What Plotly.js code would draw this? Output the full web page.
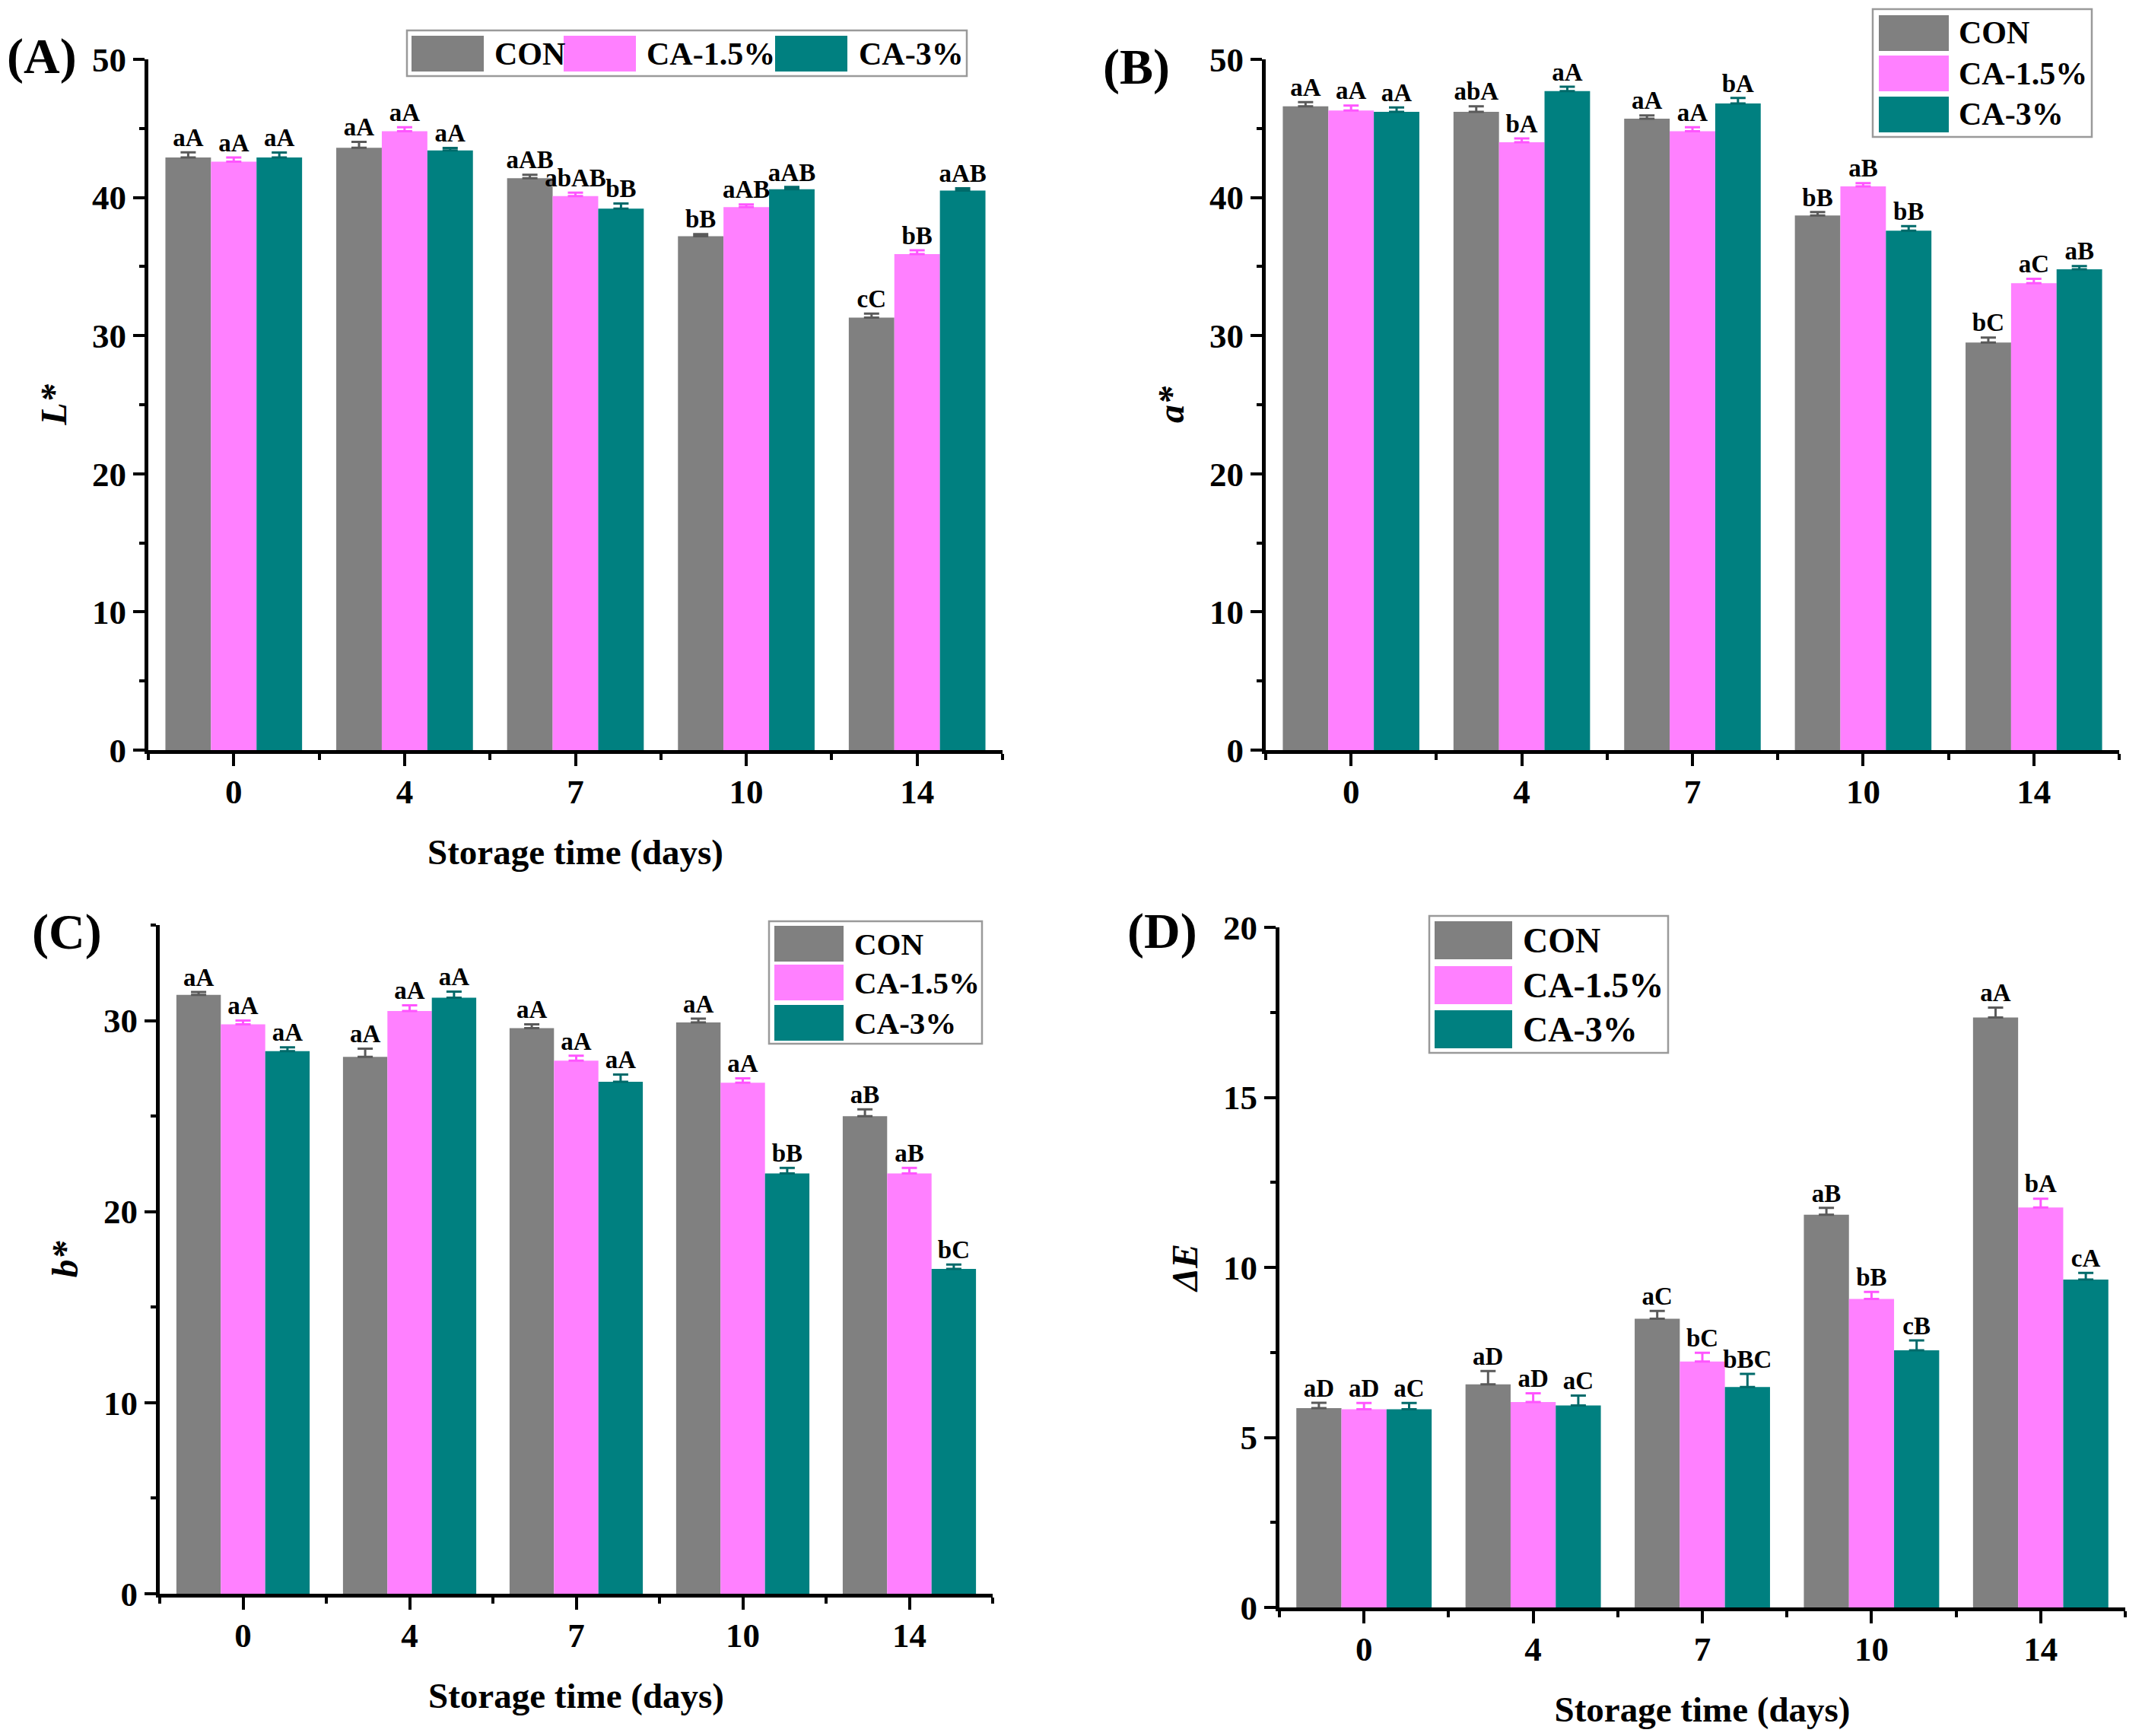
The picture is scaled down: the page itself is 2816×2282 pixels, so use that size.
<!DOCTYPE html>
<html>
<head>
<meta charset="utf-8">
<script src="https://cdn.plot.ly/plotly-3.0.1.min.js"></script>
<style>html,body{margin:0;padding:0;background:#fff;}</style>
</head>
<body>
<div id="chart" style="width:2816px;height:2282px;"></div>
<script>
// ---------- data ----------
const days = ['0', '4', '7', '10', '14'];
const groups = ['CON', 'CA-1.5%', 'CA-3%'];
const colors = ['#808080', '#FF80FF', '#008080'];
const errColors = ['#5a5a5a', '#FF55FF', '#006a6a'];

// (A) L*
const L_CON  = [42.9, 43.6, 41.4, 37.2, 31.3];
const L_CA15 = [42.6, 44.8, 40.1, 39.3, 35.9];
const L_CA3  = [42.9, 43.4, 39.2, 40.6, 40.5];
const L_CON_err  = [0.37, 0.42, 0.25, 0.15, 0.30];
const L_CA15_err = [0.30, 0.28, 0.25, 0.20, 0.28];
const L_CA3_err  = [0.35, 0.18, 0.36, 0.16, 0.16];
const L_CON_lab  = ['aA', 'aA', 'aAB', 'bB', 'cC'];
const L_CA15_lab = ['aA', 'aA', 'abAB', 'aAB', 'bB'];
const L_CA3_lab  = ['aA', 'aA', 'bB', 'aAB', 'aAB'];

// (B) a*
const a_CON  = [46.6, 46.2, 45.7, 38.7, 29.5];
const a_CA15 = [46.3, 44.0, 44.8, 40.8, 33.8];
const a_CA3  = [46.2, 47.7, 46.8, 37.6, 34.8];
const a_CON_err  = [0.30, 0.40, 0.24, 0.24, 0.36];
const a_CA15_err = [0.36, 0.28, 0.28, 0.24, 0.32];
const a_CA3_err  = [0.32, 0.32, 0.40, 0.32, 0.24];
const a_CON_lab  = ['aA', 'abA', 'aA', 'bB', 'bC'];
const a_CA15_lab = ['aA', 'bA', 'aA', 'aB', 'aC'];
const a_CA3_lab  = ['aA', 'aA', 'bA', 'bB', 'aB'];

// (C) b*
const b_CON  = [31.35, 28.1, 29.6, 29.9, 25.0];
const b_CA15 = [29.8, 30.5, 27.9, 26.75, 22.0];
const b_CA3  = [28.4, 31.2, 26.8, 22.0, 17.0];
const b_CON_err  = [0.15, 0.43, 0.20, 0.20, 0.35];
const b_CA15_err = [0.20, 0.30, 0.26, 0.23, 0.29];
const b_CA3_err  = [0.20, 0.32, 0.38, 0.29, 0.23];
const b_CON_lab  = ['aA', 'aA', 'aA', 'aA', 'aB'];
const b_CA15_lab = ['aA', 'aA', 'aA', 'aA', 'aB'];
const b_CA3_lab  = ['aA', 'aA', 'aA', 'bB', 'bC'];

// (D) ΔE
const E_CON  = [5.86, 6.56, 8.49, 11.55, 17.35];
const E_CA15 = [5.83, 6.04, 7.23, 9.07, 11.76];
const E_CA3  = [5.83, 5.94, 6.48, 7.56, 9.64];
const E_CON_err  = [0.16, 0.39, 0.23, 0.20, 0.29];
const E_CA15_err = [0.18, 0.26, 0.26, 0.21, 0.26];
const E_CA3_err  = [0.18, 0.29, 0.39, 0.29, 0.20];
const E_CON_lab  = ['aD', 'aD', 'aC', 'aB', 'aA'];
const E_CA15_lab = ['aD', 'aD', 'bC', 'bB', 'bA'];
const E_CA3_lab  = ['aC', 'aC', 'bBC', 'cB', 'cA'];

// ---------- layout constants ----------
const W = 2816, H = 2282;
const FONT = 'Liberation Serif, Times New Roman, serif';
const BARGAP = 0.2;

const panels = [
  {id: '', tag: '(A)', ytitle: '<i>L*</i>', xtitle: 'Storage time (days)',
   vals: [L_CON, L_CA15, L_CA3], errs: [L_CON_err, L_CA15_err, L_CA3_err], labs: [L_CON_lab, L_CA15_lab, L_CA3_lab],
   yr: [0, 50], dtick: 10, minor: 5, px: [195, 1318], py: [78, 986], tagPos: [7, 74],
   legend: {type: 'h', box: [535, 40, 1271, 100], sx: [541, 741, 1019], sw: 95, sy: 47, sh: 47, tx: [648, 848, 1127], fs: 42}},
  {id: '2', tag: '(B)', ytitle: '<i>a*</i>', xtitle: '',
   vals: [a_CON, a_CA15, a_CA3], errs: [a_CON_err, a_CA15_err, a_CA3_err], labs: [a_CON_lab, a_CA15_lab, a_CA3_lab],
   yr: [0, 50], dtick: 10, minor: 5, px: [1664, 2786], py: [78, 986], tagPos: [1448, 88],
   legend: {type: 'v', box: [2462, 12, 2750, 180], sx: 2470, sw: 92, sy: [20, 73, 127], sh: 47, tx: 2573, fs: 42}},
  {id: '3', tag: '(C)', ytitle: '<i>b*</i>', xtitle: 'Storage time (days)',
   vals: [b_CON, b_CA15, b_CA3], errs: [b_CON_err, b_CA15_err, b_CA3_err], labs: [b_CON_lab, b_CA15_lab, b_CA3_lab],
   yr: [0, 35], dtick: 10, minor: 5, px: [210, 1305], py: [1216, 2095], tagPos: [40, 1225],
   legend: {type: 'v', box: [1011, 1211, 1291, 1372], sx: 1018, sw: 91, sy: [1217, 1268, 1321], sh: 47, tx: 1121, fs: 41}},
  {id: '4', tag: '(D)', ytitle: '<i>ΔE</i>', xtitle: 'Storage time (days)',
   vals: [E_CON, E_CA15, E_CA3], errs: [E_CON_err, E_CA15_err, E_CA3_err], labs: [E_CON_lab, E_CA15_lab, E_CA3_lab],
   yr: [0, 20], dtick: 5, minor: 2.5, px: [1682, 2794], py: [1219, 2113], tagPos: [1480, 1224],
   legend: {type: 'v', box: [1879, 1204, 2193, 1384], sx: 1886, sw: 102, sy: [1211, 1270, 1328], sh: 50, tx: 2000, fs: 46}}
];

const data = [];
const layout = {
  width: W, height: H,
  margin: {l: 0, r: 0, t: 0, b: 0},
  paper_bgcolor: '#ffffff', plot_bgcolor: '#ffffff',
  barmode: 'group', bargap: BARGAP, bargroupgap: 0,
  showlegend: false,
  font: {family: FONT, color: '#000'},
  annotations: [], shapes: []
};

const xIdx = days.map((d, i) => i);
const barW = (1 - BARGAP) / groups.length;

panels.forEach(p => {
  const xa = 'x' + p.id, ya = 'y' + p.id;
  groups.forEach((g, k) => {
    data.push({
      type: 'bar', name: g, x: xIdx, y: p.vals[k], xaxis: xa, yaxis: ya,
      marker: {color: colors[k], line: {width: 0}},
      error_y: {type: 'data', symmetric: false, array: p.errs[k], arrayminus: p.errs[k].map(() => 0),
                color: errColors[k], thickness: 3, width: 10},
      hoverinfo: 'skip'
    });
    data.push({
      type: 'scatter', mode: 'text', x: xIdx.map(i => i + (k - 1) * barW),
      y: p.vals[k].map((v, i) => v + p.errs[k][i]),
      text: p.labs[k], textposition: 'top center', xaxis: xa, yaxis: ya,
      textfont: {family: FONT, size: 33, color: '#000', weight: 'bold'},
      cliponaxis: false, hoverinfo: 'skip', showlegend: false
    });
  });

  const xk = 'xaxis' + p.id, yk = 'yaxis' + p.id;
  layout[xk] = {
    domain: [p.px[0] / W, p.px[1] / W], anchor: ya,
    range: [-0.5, 4.5], tickmode: 'array', tickvals: xIdx, ticktext: days,
    ticks: 'outside', ticklen: 16, tickwidth: 4, tickcolor: '#000',
    showline: true, linewidth: 5, linecolor: '#000', showgrid: false, zeroline: false,
    ticklabelstandoff: -5,
    tickfont: {family: FONT, size: 45, color: '#000', weight: 'bold'},
    minor: {tickmode: 'array', tickvals: [-0.5, 0.5, 1.5, 2.5, 3.5, 4.5], ticks: 'outside', ticklen: 8, tickwidth: 4, tickcolor: '#000', showgrid: false},
    title: {text: p.xtitle, standoff: 40, font: {family: FONT, size: 47, color: '#000', weight: 'bold'}},
    fixedrange: true
  };
  layout[yk] = {
    domain: [1 - p.py[1] / H, 1 - p.py[0] / H], anchor: xa,
    range: p.yr, tickmode: 'linear', tick0: 0, dtick: p.dtick,
    ticks: 'outside', ticklen: 15, tickwidth: 4, tickcolor: '#000',
    showline: true, linewidth: 5, linecolor: '#000', showgrid: false, zeroline: false,
    ticklabelstandoff: 0,
    tickfont: {family: FONT, size: 45, color: '#000', weight: 'bold'},
    minor: {dtick: p.minor, ticks: 'outside', ticklen: 7, tickwidth: 4, tickcolor: '#000', showgrid: false},
    title: {text: p.ytitle, standoff: 20, font: {family: FONT, size: 48, color: '#000', weight: 'bold'}},
    fixedrange: true
  };

  // panel tag
  layout.annotations.push({
    xref: 'paper', yref: 'paper', x: p.tagPos[0] / W, y: 1 - p.tagPos[1] / H,
    xanchor: 'left', yanchor: 'middle', showarrow: false, text: p.tag,
    font: {family: FONT, size: 66, color: '#000', weight: 'bold'}
  });

  // legend (drawn manually to get large swatches)
  const L = p.legend;
  layout.shapes.push({type: 'rect', xref: 'paper', yref: 'paper',
    x0: L.box[0] / W, x1: L.box[2] / W, y0: 1 - L.box[1] / H, y1: 1 - L.box[3] / H,
    line: {color: '#9a9a9a', width: 2.5}, fillcolor: '#ffffff', layer: 'above'});
  groups.forEach((g, k) => {
    const sx = L.type === 'h' ? L.sx[k] : L.sx;
    const sy = L.type === 'h' ? L.sy : L.sy[k];
    const tx = L.type === 'h' ? L.tx[k] : L.tx;
    layout.shapes.push({type: 'rect', xref: 'paper', yref: 'paper',
      x0: sx / W, x1: (sx + L.sw) / W, y0: 1 - sy / H, y1: 1 - (sy + L.sh) / H,
      line: {width: 0}, fillcolor: colors[k], layer: 'above'});
    layout.annotations.push({xref: 'paper', yref: 'paper', x: tx / W, y: 1 - (sy + L.sh / 2) / H,
      xanchor: 'left', yanchor: 'middle', showarrow: false, text: g,
      font: {family: FONT, size: L.fs, color: '#000', weight: 'bold'}});
  });
});

Plotly.newPlot('chart', data, layout, {displayModeBar: false, staticPlot: true});
</script>
</body>
</html>
